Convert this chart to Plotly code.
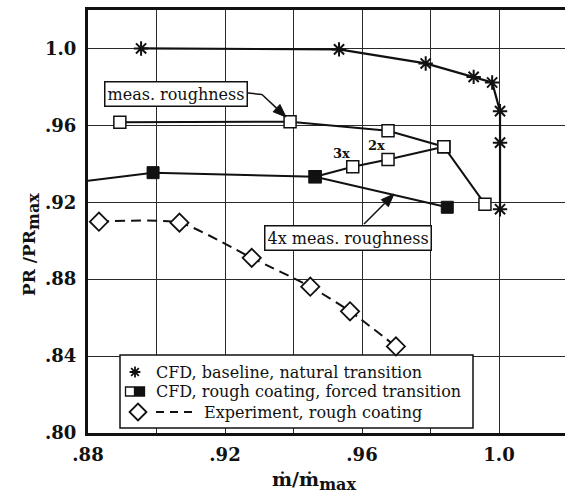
import math
import plotly.graph_objects as go

# ---- data -------------------------------------------------------------
# CFD, baseline, natural transition
base_flow = [0.8955, 0.9533, 0.9786, 0.9926, 0.9980, 1.0003, 1.0003, 1.0003]
base_pr = [1.0000, 0.9995, 0.9922, 0.9852, 0.9823, 0.9674, 0.9510, 0.9164]

# CFD, rough coating (measured roughness), forced transition
rough_flow = [0.8893, 0.9390, 0.9676, 0.9839, 0.9959]
rough_pr = [0.9616, 0.9619, 0.9572, 0.9489, 0.9190]

# roughness multiples 4x -> 3x -> 2x -> 1x
mult_flow = [0.9463, 0.9573, 0.9676, 0.9839]
mult_pr = [0.9333, 0.9385, 0.9423, 0.9489]
mult_labels = ["3x", "2x"]

# CFD, 4x measured roughness (curve enters from the left edge)
rough4_flow = [0.8800, 0.8990, 0.9463, 0.9849]
rough4_pr = [0.9312, 0.9354, 0.9333, 0.9174]

# Experiment, rough coating
exp_flow = [0.8832, 0.9067, 0.9278, 0.9449, 0.9565, 0.9699]
exp_pr = [0.9099, 0.9094, 0.8911, 0.8761, 0.8633, 0.8450]

x_ticks = [0.88, 0.92, 0.96, 1.00]
x_ticktext = [".88", ".92", ".96", "1.0"]
y_ticks = [0.80, 0.84, 0.88, 0.92, 0.96, 1.00]
y_ticktext = [".80", ".84", ".88", ".92", ".96", "1.0"]

legend_labels = [
    "CFD, baseline, natural transition",
    "CFD, rough coating, forced transition",
    "Experiment, rough coating",
]

# ---- layout geometry (pixels) -----------------------------------------
W, H = 565, 502
L, R, T, B = 88, 0, 10, 69
PW, PH = W - L - R, H - T - B
X0, XSCALE = 0.88, 3425.0          # px per unit of m/m_max
Y0, Y1 = 0.80, 1.02
YSCALE = PH / (Y1 - Y0)

SERIF = "DejaVu Serif"
INK = "#111111"
GRID = "#2a2a2a"


def dx(px):
    """page x pixel -> x axis value (for legend / callout placement)"""
    return X0 + (px - L) / XSCALE


def dy(py):
    """page y pixel -> y axis value (for legend / callout placement)"""
    return Y0 + (T + PH - py) / YSCALE


def arrow_shapes(tail, tip, head_len=13, head_half=5, width=1.5):
    """leader line plus a filled triangular head, given page pixels"""
    (x1, y1), (x2, y2) = tail, tip
    ang = math.atan2(y2 - y1, x2 - x1)
    ux, uy = math.cos(ang), math.sin(ang)
    bx, by = x2 - ux * head_len, y2 - uy * head_len
    lx, ly = bx - uy * head_half, by + ux * head_half
    rx, ry = bx + uy * head_half, by - ux * head_half
    path = "M {} {} L {} {} L {} {} Z".format(
        dx(x2), dy(y2), dx(lx), dy(ly), dx(rx), dy(ry))
    return [
        dict(type="line", xref="x", yref="y", x0=dx(x1), y0=dy(y1),
             x1=dx(bx), y1=dy(by), line=dict(color=INK, width=width),
             layer="above"),
        dict(type="path", xref="x", yref="y", path=path, fillcolor=INK,
             line=dict(color=INK, width=1), layer="above"),
    ]


fig = go.Figure()

# experiment (dashed, open diamonds)
fig.add_trace(go.Scatter(
    x=exp_flow, y=exp_pr, mode="lines+markers",
    line=dict(color=INK, width=2, dash="10px,6px", shape="spline", smoothing=0.6),
    marker=dict(symbol="diamond", size=14, color="white",
                line=dict(color=INK, width=1.8)),
))

# 4x measured roughness: curve, then filled squares on the computed points
fig.add_trace(go.Scatter(
    x=rough4_flow, y=rough4_pr, mode="lines",
    line=dict(color=INK, width=2),
))
fig.add_trace(go.Scatter(
    x=rough4_flow[1:], y=rough4_pr[1:], mode="markers",
    marker=dict(symbol="square", size=12, color=INK,
                line=dict(color=INK, width=1)),
))

# line through the roughness multiples
fig.add_trace(go.Scatter(
    x=mult_flow, y=mult_pr, mode="lines+markers",
    line=dict(color=INK, width=2),
    marker=dict(symbol="square", size=12,
                color=[INK, "white", "white", "white"],
                line=dict(color=INK, width=1.5)),
))

# measured roughness (open squares)
fig.add_trace(go.Scatter(
    x=rough_flow, y=rough_pr, mode="lines+markers",
    line=dict(color=INK, width=2),
    marker=dict(symbol="square", size=12, color="white",
                line=dict(color=INK, width=1.5)),
))

# baseline (asterisks)
fig.add_trace(go.Scatter(
    x=base_flow, y=base_pr, mode="lines+markers",
    line=dict(color=INK, width=2.2),
    marker=dict(symbol="asterisk-open", size=12, color=INK,
                line=dict(color=INK, width=2)),
))

# ---- legend keys --------------------------------------------------------
leg_rows = [dy(372), dy(391.5), dy(412)]
fig.add_trace(go.Scatter(
    x=[dx(135)], y=[leg_rows[0]], mode="markers", hoverinfo="skip",
    marker=dict(symbol="asterisk-open", size=9, color=INK,
                line=dict(color=INK, width=1.8))))
fig.add_trace(go.Scatter(
    x=[dx(130), dx(140)], y=[leg_rows[1]] * 2, mode="markers", hoverinfo="skip",
    marker=dict(symbol="square", size=9, color=["white", INK],
                line=dict(color=INK, width=1.3))))
fig.add_trace(go.Scatter(
    x=[dx(156), dx(193)], y=[leg_rows[2]] * 2, mode="lines", hoverinfo="skip",
    line=dict(color=INK, width=2, dash="8px,6px")))
fig.add_trace(go.Scatter(
    x=[dx(138)], y=[leg_rows[2]], mode="markers", hoverinfo="skip",
    marker=dict(symbol="diamond", size=13, color="white",
                line=dict(color=INK, width=1.8))))

shapes = [
    # legend frame (covers the grid, sits under the keys)
    dict(type="rect", xref="x", yref="y", x0=dx(120), x1=dx(473),
         y0=dy(428), y1=dy(355), fillcolor="white",
         line=dict(color=INK, width=1.5), layer="between"),
    # kink of the "meas. roughness" leader
    dict(type="line", xref="x", yref="y", x0=dx(248), y0=dy(93),
         x1=dx(262), y1=dy(94.5), line=dict(color=INK, width=1.5),
         layer="above"),
]
shapes += arrow_shapes((262, 94.5), (286, 117))
shapes += arrow_shapes((364, 224), (394, 194))

annotations = []
leg_text_x = [dx(154), dx(154), dx(202)]
for lbl, ty, tx in zip(legend_labels, leg_rows, leg_text_x):
    annotations.append(dict(
        text=lbl, xref="x", yref="y", x=tx, y=ty, xanchor="left",
        yanchor="middle", showarrow=False,
        font=dict(family=SERIF, size=16, color=INK)))

# callout boxes
annotations.append(dict(
    text="meas. roughness", xref="x", yref="y", x=dx(175.5), y=dy(93.5),
    showarrow=False, font=dict(family=SERIF, size=16, color=INK),
    bgcolor="white", bordercolor=INK, borderwidth=1.5, borderpad=2))
annotations.append(dict(
    text="4x meas. roughness", xref="x", yref="y", x=dx(348), y=dy(238),
    showarrow=False, font=dict(family=SERIF, size=16, color=INK),
    bgcolor="white", bordercolor=INK, borderwidth=1.5, borderpad=2))

# roughness multiple labels, placed above their points
for lbl, fx, fy in zip(mult_labels, mult_flow[1:3], mult_pr[1:3]):
    annotations.append(dict(
        text=lbl, x=fx, y=fy, xanchor="right", yanchor="bottom",
        xshift=-1, yshift=4, showarrow=False,
        font=dict(family=SERIF, size=13, color=INK, weight="bold")))

axis_font = dict(family=SERIF, size=18, color=INK, weight="bold")
SUB = "<sub><span style='font-size:16px'>max</span></sub>"

# axis titles
annotations.append(dict(
    text="ṁ/ṁ" + SUB, xref="paper", yref="paper",
    x=(314 - L) / PW, y=-(466 - T - PH) / PH, xanchor="center", yanchor="top",
    showarrow=False, font=dict(family=SERIF, size=19, color=INK, weight="bold")))
annotations.append(dict(
    text="PR /PR" + SUB, xref="paper", yref="paper", textangle=-90,
    x=-(L - 31) / PW, y=(T + PH - 245) / PH, xanchor="center", yanchor="middle",
    showarrow=False, font=dict(family=SERIF, size=17, color=INK, weight="bold")))

fig.update_layout(
    width=W, height=H,
    margin=dict(l=L, r=R, t=T, b=B, pad=0),
    plot_bgcolor="white", paper_bgcolor="white",
    showlegend=False,
    shapes=shapes, annotations=annotations,
    xaxis=dict(
        range=[X0, X0 + PW / XSCALE], tickvals=x_ticks, ticktext=x_ticktext,
        tickfont=axis_font, ticks="", showgrid=True, gridcolor=GRID, gridwidth=1,
        minor=dict(tickvals=[0.90, 0.94, 0.98, 1.02], showgrid=True,
                   gridcolor=GRID, gridwidth=1, ticks=""),
        showline=True, linecolor=INK, linewidth=2.5, mirror=True,
        zeroline=False, ticklabelstandoff=4,
    ),
    yaxis=dict(
        range=[Y0, Y1], tickvals=y_ticks, ticktext=y_ticktext,
        tickfont=axis_font, ticks="", showgrid=True, gridcolor=GRID, gridwidth=1,
        showline=True, linecolor=INK, linewidth=3, mirror=False,
        zeroline=False, ticklabelstandoff=5,
    ),
)

fig.write_html("out.html")
